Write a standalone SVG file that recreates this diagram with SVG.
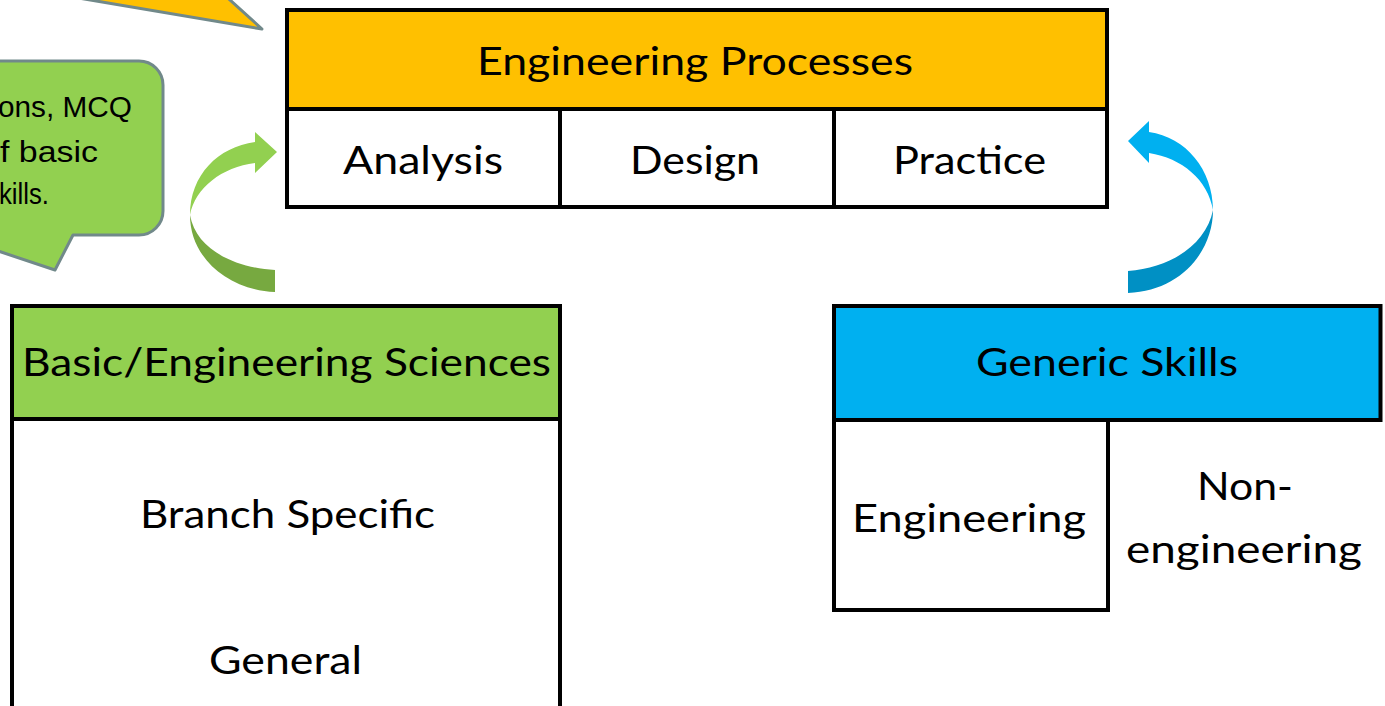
<svg xmlns="http://www.w3.org/2000/svg" width="1385" height="706" viewBox="0 0 1385 706">
  <style>
    .box { stroke: #000; stroke-width: 4; }
    .lbl { font-family: Lato, "Liberation Sans", sans-serif; font-size: 39px; fill: #000; text-anchor: middle; }
    .call { stroke: #71898A; stroke-width: 3; stroke-linejoin: round; }
    .ctext { font-family: "Liberation Sans", Arial, sans-serif; font-size: 29px; fill: #000; text-anchor: end; }
  </style>
  <rect width="1385" height="706" fill="#fff"/>

  <g id="callout-yellow">
    <polygon class="call" points="31,-10 262,29 219,-10" fill="#FFC000"/>
  </g>

  <g id="callout-green">
    <path class="call" fill="#92D050" d="M -20,61 H 139 A 24 24 0 0 1 163,85 V 211 A 24 24 0 0 1 139,235 H 73 L 55,270 L -20,245 Z"/>
    <text class="ctext" x="132" y="117" textLength="134" lengthAdjust="spacingAndGlyphs">ons, MCQ</text>
    <text class="ctext" x="98" y="162" textLength="98" lengthAdjust="spacingAndGlyphs">f basic</text>
    <text class="ctext" x="49" y="204" textLength="50" lengthAdjust="spacingAndGlyphs">kills.</text>
  </g>

  <g id="engineering-processes">
    <rect class="box" x="287" y="10" width="820" height="99" fill="#FFC000"/>
    <rect class="box" x="287" y="109" width="273" height="98" fill="#fff"/>
    <rect class="box" x="560" y="109" width="274" height="98" fill="#fff"/>
    <rect class="box" x="834" y="109" width="273" height="98" fill="#fff"/>
    <text class="lbl" x="695" y="75" textLength="436" lengthAdjust="spacingAndGlyphs">Engineering Processes</text>
    <text class="lbl" x="423" y="174" textLength="160" lengthAdjust="spacingAndGlyphs">Analysis</text>
    <text class="lbl" x="695" y="174" textLength="130" lengthAdjust="spacingAndGlyphs">Design</text>
    <text class="lbl" x="969.5" y="174" textLength="153" lengthAdjust="spacingAndGlyphs">Practice</text>
  </g>

  <g id="basic-engineering-sciences">
    <rect class="box" x="12" y="306" width="548" height="113" fill="#92D050"/>
    <rect class="box" x="12" y="419" width="548" height="310" fill="#fff"/>
    <text class="lbl" x="286.5" y="376" textLength="529" lengthAdjust="spacingAndGlyphs">Basic/Engineering Sciences</text>
    <text class="lbl" x="287.5" y="528" textLength="295" lengthAdjust="spacingAndGlyphs">Branch Specific</text>
    <text class="lbl" x="285.5" y="674" textLength="153" lengthAdjust="spacingAndGlyphs">General</text>
  </g>

  <g id="generic-skills">
    <rect class="box" x="834" y="306" width="546.5" height="114" fill="#00B0F0"/>
    <rect class="box" x="834" y="420" width="274" height="190" fill="#fff"/>
    <text class="lbl" x="1107" y="376" textLength="262" lengthAdjust="spacingAndGlyphs">Generic Skills</text>
    <text class="lbl" x="969" y="532" textLength="234" lengthAdjust="spacingAndGlyphs">Engineering</text>
    <text class="lbl" x="1245" y="500" textLength="96" lengthAdjust="spacingAndGlyphs">Non-</text>
    <text class="lbl" x="1244" y="563" textLength="236" lengthAdjust="spacingAndGlyphs">engineering</text>
  </g>

  <g id="connectors">
    <g id="arrow-green">
      <path fill="#92D050" d="M190,215 C190,175 218,147 255,142 L255,132 L277,152 L255,173 L255,163 C222,167 195,188 190,215 Z"/>
      <path fill="#77A940" d="M190,215 C190,258 228,290 275,292 L275,270 C236,268 196,250 190,215 Z"/>
    </g>
    <g id="arrow-blue">
      <path fill="#00B0F0" d="M1213,210 C1213,170 1186,137 1149,132 L1149,121 L1128,141 L1149,163 L1149,153 C1182,158 1208,180 1213,210 Z"/>
      <path fill="#0090C4" d="M1213,210 C1213,252 1180,291 1128,293 L1128,271 C1170,268 1206,245 1213,210 Z"/>
    </g>
  </g>
</svg>
